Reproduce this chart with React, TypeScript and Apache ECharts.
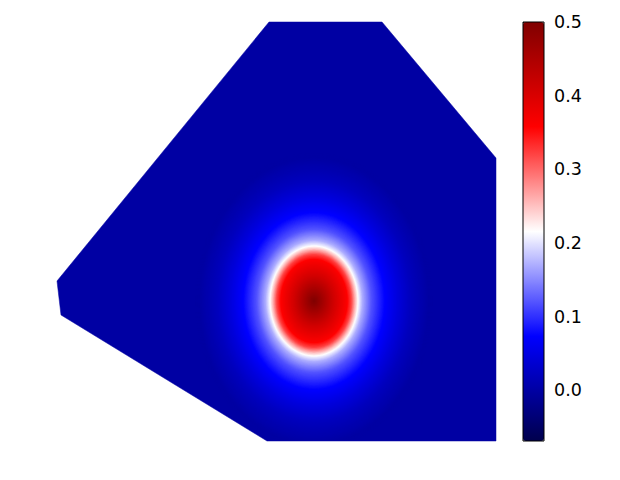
import React, { useEffect, useRef } from "react";
import * as echarts from "echarts";

// Domain polygon (data units; plot area spans x 0..4.39, y 0..4.19)
const DOMAIN_X = [2.12, 3.25, 4.39, 4.39, 2.1, 0.04, 0.0];
const DOMAIN_Y = [4.19, 4.19, 2.83, 0.0, 0.0, 1.26, 1.6];
const BACKGROUND_VALUE = 0.0;

// Elliptical bump: centre, radii, radial profile
const BUMP_CENTER = [2.57, 1.4];
const BUMP_RADII = [0.44, 0.55];
const PROFILE_RHO = [0, 0.15, 0.3, 0.45, 0.6, 0.75, 0.85, 0.93, 1.0, 1.1, 1.3, 1.6, 1.9, 2.2, 2.6];
const PROFILE_VALUE = [0.5, 0.47, 0.44, 0.41, 0.385, 0.36, 0.32, 0.26, 0.215, 0.17, 0.12, 0.075, 0.045, 0.02, 0.0];

// Colour bar
const CBAR_MIN = -0.069;
const CBAR_MAX = 0.5;
const CBAR_TICKS = [0.0, 0.1, 0.2, 0.3, 0.4, 0.5];
const SEISMIC = ["#00004d", "#0000ff", "#ffffff", "#ff0000", "#800000"];

function profileAt(rho: number): number {
  if (rho >= PROFILE_RHO[PROFILE_RHO.length - 1]) return PROFILE_VALUE[PROFILE_VALUE.length - 1];
  for (let i = 1; i < PROFILE_RHO.length; i++) {
    if (rho <= PROFILE_RHO[i]) {
      const t = (rho - PROFILE_RHO[i - 1]) / (PROFILE_RHO[i] - PROFILE_RHO[i - 1]);
      return PROFILE_VALUE[i - 1] + t * (PROFILE_VALUE[i] - PROFILE_VALUE[i - 1]);
    }
  }
  return PROFILE_VALUE[0];
}

export default function App() {
  const ref = useRef<HTMLDivElement>(null);
  useEffect(() => {
    if (!ref.current) return;
    const chart = echarts.init(ref.current, undefined, { renderer: "svg" });

    const rings: number[][] = [];
    const step = 0.015;
    for (let rho = PROFILE_RHO[PROFILE_RHO.length - 1] + 0.1; rho > 0; rho -= step) {
      const mid = Math.max(0, rho - step / 2);
      rings.push([BUMP_CENTER[0], BUMP_CENTER[1], profileAt(mid), rho]);
    }

    const option: any = {
      animation: false,
      textStyle: { fontFamily: "DejaVu Sans" },
      grid: [
        { left: 57, top: 22, width: 439, height: 419 },
        { left: 523, top: 22, width: 21, height: 419 },
      ],
      xAxis: [
        { type: "value", gridIndex: 0, min: 0, max: 4.39, show: false },
        { type: "value", gridIndex: 1, min: 0, max: 1, show: false },
      ],
      yAxis: [
        { type: "value", gridIndex: 0, min: 0, max: 4.19, show: false },
        {
          type: "value",
          gridIndex: 1,
          min: CBAR_MIN,
          max: CBAR_MAX,
          position: "right",
          splitNumber: 5,
          splitLine: { show: false },
          axisLine: { show: false },
          axisTick: {
            show: true,
            length: 5,
            customValues: CBAR_TICKS,
            lineStyle: { color: "#000", width: 1 },
          },
          axisLabel: {
            show: true,
            customValues: CBAR_TICKS,
            margin: 10,
            fontSize: 17.5,
            color: "#000",
            fontFamily: "DejaVu Sans",
            formatter: (v: number) => v.toFixed(1),
          },
        },
      ],
      visualMap: {
        type: "continuous",
        min: CBAR_MIN,
        max: CBAR_MAX,
        dimension: 2,
        seriesIndex: [0, 1],
        orient: "vertical",
        left: 523,
        top: 22,
        itemWidth: 21,
        itemHeight: 419,
        padding: 0,
        calculable: false,
        hoverLink: false,
        text: null,
        inRange: { color: SEISMIC },
      },
      graphic: [
        {
          type: "rect",
          z: 100,
          silent: true,
          shape: { x: 523, y: 22, width: 21, height: 419 },
          style: { fill: "none", stroke: "#000", lineWidth: 1 },
        },
      ],
      series: [
        {
          type: "custom",
          xAxisIndex: 0,
          yAxisIndex: 0,
          dimensions: ["x", "y", "value"],
          encode: { x: 0, y: 1 },
          data: [[DOMAIN_X[0], DOMAIN_Y[0], BACKGROUND_VALUE]],
          renderItem: (params: any, api: any) => {
            const points = DOMAIN_X.map((x, i) => api.coord([x, DOMAIN_Y[i]]));
            return {
              type: "polygon",
              shape: { points },
              style: { fill: api.visual("color"), stroke: api.visual("color"), lineWidth: 0.5 },
            };
          },
        },
        {
          type: "custom",
          xAxisIndex: 0,
          yAxisIndex: 0,
          dimensions: ["x", "y", "value", "rho"],
          encode: { x: 0, y: 1 },
          data: rings,
          renderItem: (params: any, api: any) => {
            const cx = api.value(0);
            const cy = api.value(1);
            const rho = api.value(3);
            const pts: number[][] = [];
            const n = 96;
            for (let k = 0; k < n; k++) {
              const th = (2 * Math.PI * k) / n;
              const x = cx + rho * BUMP_RADII[0] * Math.cos(th);
              const y = Math.max(0, cy + rho * BUMP_RADII[1] * Math.sin(th));
              pts.push(api.coord([x, y]));
            }
            return {
              type: "polygon",
              shape: { points: pts },
              style: { fill: api.visual("color") },
            };
          },
        },
      ],
    };
    chart.setOption(option);
    return () => chart.dispose();
  }, []);
  return (
    <div
      ref={ref}
      style={{ position: "fixed", left: 0, top: 0, width: 620, height: 480, background: "#fff" }}
    />
  );
}
